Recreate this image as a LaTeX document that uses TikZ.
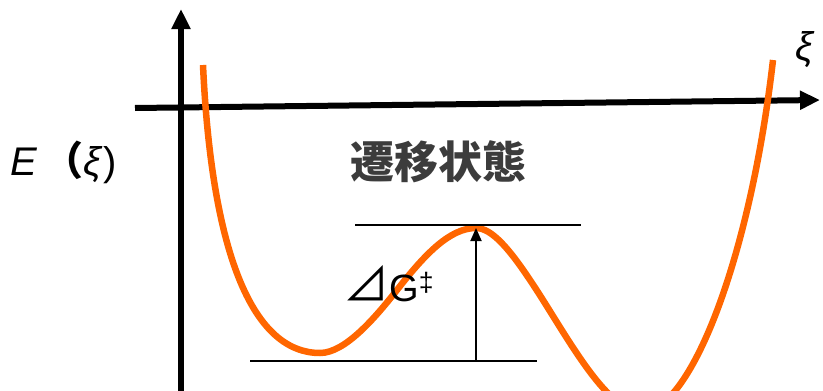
\documentclass[tikz,border=0pt]{standalone}
\usepackage{fontspec}
\setmainfont{Liberation Sans}
\newfontfamily\jpfont{Noto Sans CJK JP}
\usetikzlibrary{positioning,arrows.meta,calc}
\definecolor{CurveOrange}{RGB}{255,102,0}
\definecolor{LabelGray}{RGB}{60,60,60}
\tikzset{
  axis/.style={-{Triangle[length=20pt,width=18pt]},line width=6pt,draw=black},
  level/.style={line width=1.6pt,draw=black},
  barrier/.style={-{Triangle[length=13pt,width=11pt]},line width=1.8pt,draw=black},
  energy/.style={line width=6.5pt,draw=CurveOrange},
  axislabel/.style={font=\fontsize{40}{44}\selectfont,inner sep=0pt},
  statelabel/.style={font=\jpfont\bfseries\fontsize{44}{48}\selectfont,text=LabelGray,inner sep=0pt}
}
\begin{document}
\begin{tikzpicture}[x=1pt,y=-1pt]
  \useasboundingbox (0,0) rectangle (823,391);
  \clip (0,0) rectangle (823,391);
  % axes
  \coordinate (ybot) at (181,400);
  \coordinate (ytop) at (181,9);
  \coordinate (xleft) at (135,108);
  \coordinate (xright) at (820,100);
  \draw[axis] (ybot) -- (ytop);
  \draw[axis] (xleft) -- (xright);
  % potential curve
  \coordinate (cstart) at (203,65);
  \coordinate (leftmin) at (320,353);
  \coordinate (peak) at (476,228);
  \coordinate (rightmin) at (642,412);
  \coordinate (cend) at (773,60);
  \draw[energy] (cstart) .. controls (212,260) and (255,353) .. (leftmin)
    .. controls (345,353) and (375,318) .. (397,290)
    .. controls (425,254) and (450,228) .. (peak)
    .. controls (492,228) and (510,250) .. (530,280)
    .. controls (565,332) and (605,412) .. (rightmin)
    .. controls (690,412) and (750,260) .. (cend);
  % levels
  \coordinate (tsl) at (355,225);
  \coordinate (tsr) at (581,225);
  \coordinate (gsl) at (250,361);
  \coordinate (gsr) at (537,361);
  \draw[level] (tsl) -- (tsr);
  \draw[level] (gsl) -- (gsr);
  \coordinate (gsbase) at (476,361);
  \coordinate (tspeak) at (476,228);
  \draw[barrier] (gsbase) -- (tspeak);
  % labels
  \node[axislabel,anchor=west] (elabel) at (10,162) {\textit{E}\,{\jpfont\bfseries （}\textit{ξ})};
  \node[axislabel,anchor=center] (xilabel) at (805,50) {\textit{ξ}};
  \node[statelabel,anchor=center] (ts) at (438,162) {遷移状態};
  \node[axislabel,anchor=base west,font=\fontsize{38}{42}\selectfont] (dg) at (343,301) {{\jpfont\fontsize{46}{48}\selectfont ⊿}G\textsuperscript{‡}};
\end{tikzpicture}
\end{document}
